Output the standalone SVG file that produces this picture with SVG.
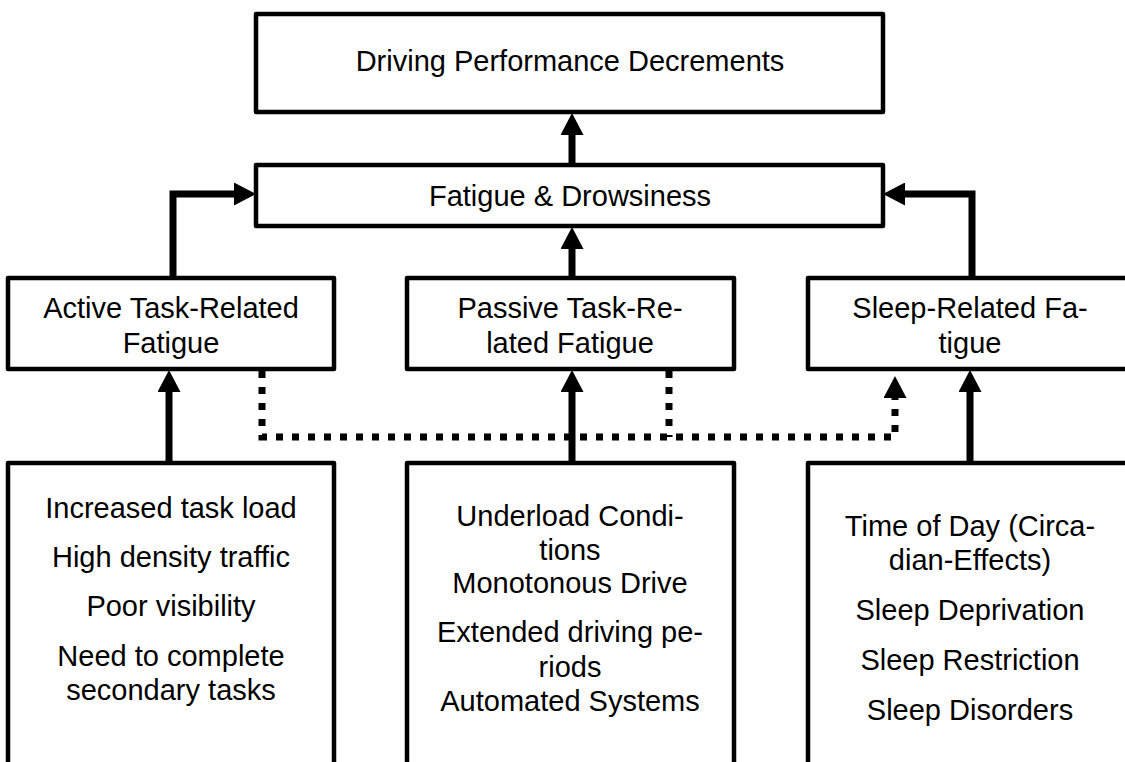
<svg xmlns="http://www.w3.org/2000/svg" width="1125" height="762" viewBox="0 0 1125 762">
  <style>
    .box { fill: #ffffff; stroke: #000000; stroke-width: 4.5; stroke-linejoin: round; }
    .lbl { font-family: "Liberation Sans", Arial, sans-serif; font-size: 29px; fill: #000000; text-anchor: middle; }
    .link { fill: none; stroke: #000000; stroke-width: 7; }
    .dot { fill: none; stroke: #000000; stroke-width: 7; stroke-dasharray: 7 9; }
  </style>
  <defs>
    <marker id="head" markerUnits="userSpaceOnUse" markerWidth="22" markerHeight="23" viewBox="0 0 22 23" refX="0" refY="11.5" orient="auto">
      <path d="M0,0 L22,11.5 L0,23 Z" fill="#000000"/>
    </marker>
  </defs>

  <rect width="1125" height="762" fill="#ffffff"/>

  <!-- Outcome -->
  <g id="decrements">
    <rect class="box" x="256" y="14" width="627" height="98"/>
    <text class="lbl" x="570" y="71">Driving Performance Decrements</text>
  </g>

  <!-- Central state -->
  <g id="fatigue">
    <rect class="box" x="256" y="165" width="627" height="61"/>
    <text class="lbl" x="570" y="206">Fatigue &amp; Drowsiness</text>
  </g>

  <!-- Fatigue types -->
  <g id="active">
    <rect class="box" x="8" y="278" width="326" height="91"/>
    <text class="lbl" x="171" y="318">Active Task-Related</text>
    <text class="lbl" x="171" y="353">Fatigue</text>
  </g>
  <g id="passive">
    <rect class="box" x="407" y="278" width="327" height="91"/>
    <text class="lbl" x="570" y="318">Passive Task-Re-</text>
    <text class="lbl" x="570" y="353">lated Fatigue</text>
  </g>
  <g id="sleep">
    <rect class="box" x="808" y="278" width="326" height="91"/>
    <text class="lbl" x="970" y="318">Sleep-Related Fa-</text>
    <text class="lbl" x="970" y="353">tigue</text>
  </g>

  <!-- Causes -->
  <g id="active-causes">
    <rect class="box" x="8" y="463" width="326" height="340"/>
    <text class="lbl" x="171" y="518">Increased task load</text>
    <text class="lbl" x="171" y="567">High density traffic</text>
    <text class="lbl" x="171" y="616">Poor visibility</text>
    <text class="lbl" x="171" y="666">Need to complete</text>
    <text class="lbl" x="171" y="700">secondary tasks</text>
  </g>
  <g id="passive-causes">
    <rect class="box" x="407" y="463" width="327" height="340"/>
    <text class="lbl" x="570" y="526">Underload Condi-</text>
    <text class="lbl" x="570" y="560">tions</text>
    <text class="lbl" x="570" y="593">Monotonous Drive</text>
    <text class="lbl" x="570" y="642">Extended driving pe-</text>
    <text class="lbl" x="570" y="677">riods</text>
    <text class="lbl" x="570" y="711">Automated Systems</text>
  </g>
  <g id="sleep-causes">
    <rect class="box" x="808" y="463" width="326" height="340"/>
    <text class="lbl" x="970" y="536">Time of Day (Circa-</text>
    <text class="lbl" x="970" y="570">dian-Effects)</text>
    <text class="lbl" x="970" y="620">Sleep Deprivation</text>
    <text class="lbl" x="970" y="670">Sleep Restriction</text>
    <text class="lbl" x="970" y="720">Sleep Disorders</text>
  </g>

  <!-- Connectors -->
  <g id="connectors">
    <path class="link" d="M572,165 V135" marker-end="url(#head)"/>
    <path class="link" d="M572,278 V249" marker-end="url(#head)"/>
    <path class="link" d="M173,280 V194 H234" marker-end="url(#head)"/>
    <path class="link" d="M972,280 V194 H905" marker-end="url(#head)"/>
    <path class="link" d="M169,463 V392" marker-end="url(#head)"/>
    <path class="link" d="M572,463 V392" marker-end="url(#head)"/>
    <path class="link" d="M970,463 V392" marker-end="url(#head)"/>
    <path class="dot" d="M262,371 V437 H895 V398" marker-end="url(#head)"/>
    <path class="dot" d="M669,371 V437"/>
  </g>
</svg>
